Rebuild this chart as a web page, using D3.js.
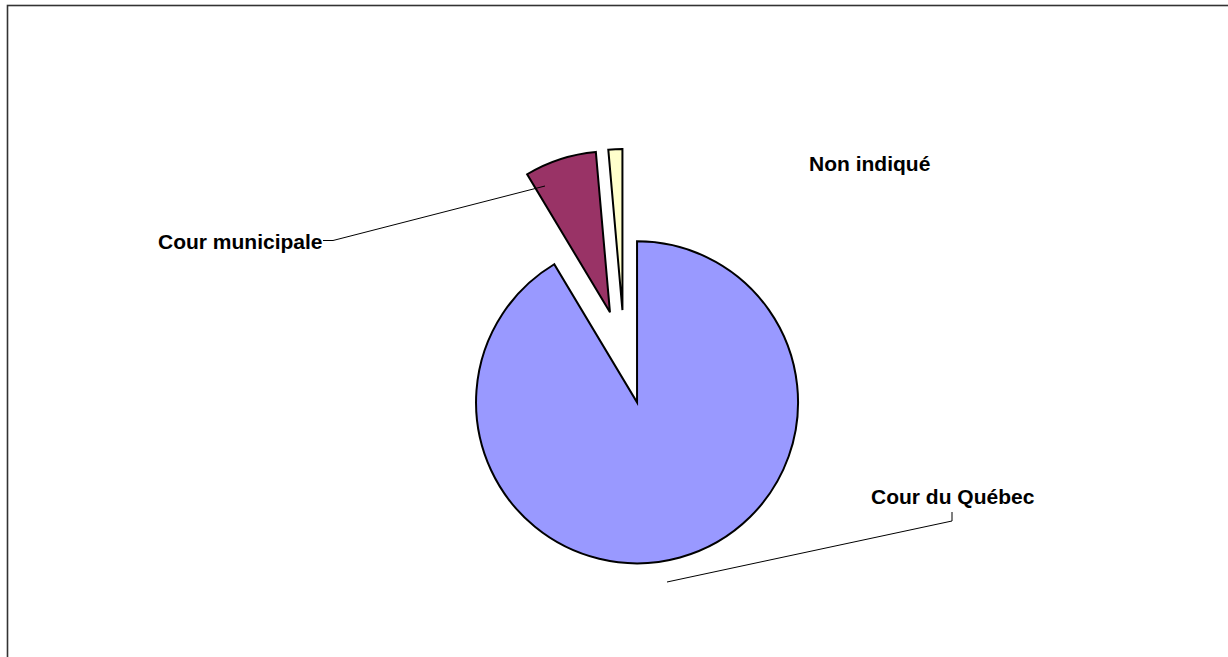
<!DOCTYPE html>
<html>
<head>
<meta charset="utf-8">
<script src="https://cdn.jsdelivr.net/npm/d3@7"></script>
<style>
  html, body { margin: 0; padding: 0; background: #fff; }
  svg { display: block; }
  text { font-family: Arial, "Liberation Sans", sans-serif; font-weight: bold; }
</style>
</head>
<body>
<svg id="chart" width="1228" height="657"></svg>
<script>
// Data
const categories = ["Cour du Québec", "Cour municipale", "Non indiqué"];
const values = [91.4, 7.2, 1.4];
const colors = ["#9999FF", "#993366", "#FFFFCC"];

// Layout
const W = 1228, H = 657;
const cx = 624.5, cy = 357, radius = 161, explode = 47;

const svg = d3.select("#chart");

// Chart frame (extends past right/bottom of the view)
svg.append("rect")
  .attr("x", 7.5).attr("y", 5.5)
  .attr("width", 1240).attr("height", 680)
  .attr("fill", "none")
  .attr("stroke", "#333")
  .attr("stroke-width", 1.6);

const data = categories.map((c, i) => ({ name: c, value: values[i], color: colors[i] }));

const pie = d3.pie().sort(null).value(d => d.value).startAngle(0).endAngle(2 * Math.PI);
const arc = d3.arc().innerRadius(0).outerRadius(radius);
const arcs = pie(data);

const g = svg.append("g").attr("transform", `translate(${cx},${cy})`);

function offset(a) {
  const mid = (a.startAngle + a.endAngle) / 2;
  return [Math.sin(mid) * explode, -Math.cos(mid) * explode];
}

g.selectAll("path.slice")
  .data(arcs)
  .join("path")
  .attr("class", "slice")
  .attr("transform", d => { const o = offset(d); return `translate(${o[0]},${o[1]})`; })
  .attr("d", arc)
  .attr("fill", d => d.data.color)
  .attr("stroke", "#000")
  .attr("stroke-width", 2)
  .attr("stroke-linejoin", "miter");

// Labels (positions in page coordinates)
const labelLayout = [
  { x: 871, y: 504, anchor: "start",
    leader: [[952, 512], [952, 521], [667, 582]] },
  { x: 158, y: 249, anchor: "start",
    leader: [[323, 240.5], [333, 240.5], [545, 186]] },
  { x: 809, y: 171, anchor: "start", leader: null }
];

const fontSize = 21;

arcs.forEach((a, i) => {
  const L = labelLayout[i];
  if (L.leader) {
    svg.append("path")
      .attr("d", d3.line()(L.leader))
      .attr("fill", "none")
      .attr("stroke", "#000")
      .attr("stroke-width", 1);
  }
  svg.append("text")
    .attr("x", L.x).attr("y", L.y)
    .attr("text-anchor", L.anchor)
    .attr("font-size", fontSize)
    .attr("fill", "#000")
    .text(a.data.name);
});
</script>
</body>
</html>
